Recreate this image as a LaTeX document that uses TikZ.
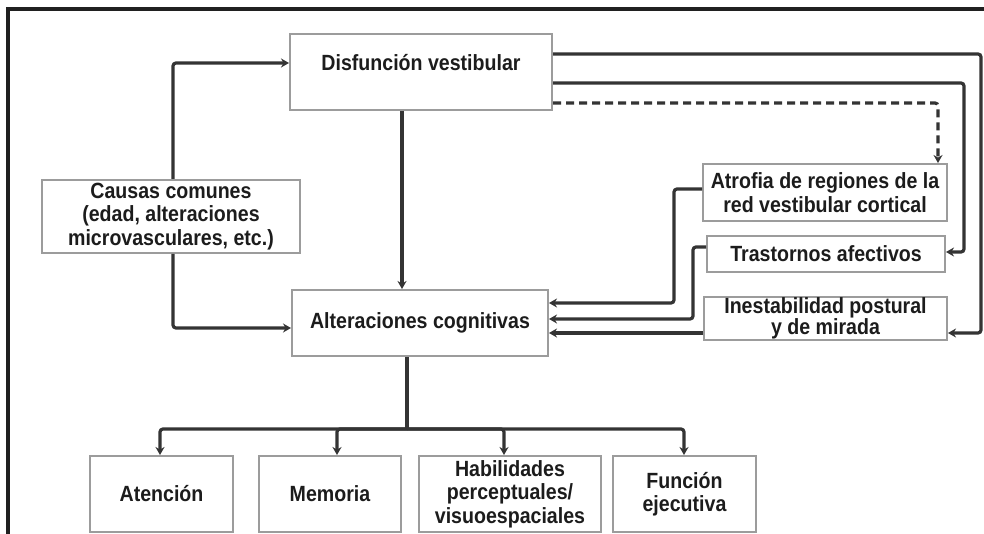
\documentclass[tikz,border=0pt]{standalone}
\usepackage{fontspec}
\setmainfont[FakeStretch=0.89]{Liberation Sans}
\usetikzlibrary{arrows.meta,calc}
\definecolor{ln}{HTML}{343434}
\definecolor{bx}{HTML}{9C9C9C}
\definecolor{tx}{HTML}{1C1C1C}
\definecolor{fr}{HTML}{202020}
\begin{document}
\begin{tikzpicture}[x=1pt,y=-1pt,
  box/.style={draw=bx,line width=2pt,fill=white,inner sep=0pt,align=center,
    text=tx,font=\bfseries\fontsize{22}{23.5}\selectfont},
  lbl/.style={inner sep=0pt,align=center,text=tx,font=\bfseries\fontsize{22}{23.5}\selectfont},
  wire/.style={draw=ln,line width=3.2pt,rounded corners=3pt},
  conn/.style={wire,-{Stealth[length=8pt,width=9pt]}},
  dconn/.style={conn,dash pattern=on 8pt off 5pt}]
\useasboundingbox (0,0) rectangle (984,534);
\fill[white] (0,0) rectangle (984,534);
% frame
\draw[fr,line width=3.2pt] (8,540) -- (8,9) -- (990,9);
% boxes
\node[box,minimum width=262pt,minimum height=76pt] (dis) at (421,72) {};
\node[lbl] (dislbl) at (421,63) {Disfunción vestibular};
\node[box,minimum width=258pt,minimum height=73pt] (cau) at (171,216.5)
  {Causas comunes\\(edad, alteraciones\\microvasculares, etc.)};
\node[box,minimum width=256pt,minimum height=66pt] (alt) at (420,323) {Alteraciones cognitivas};
\node[box,minimum width=244pt,minimum height=57pt] (atr) at (825,192.5)
  {Atrofia de regiones de la\\red vestibular cortical};
\node[box,minimum width=238pt,minimum height=36pt] (tra) at (826,254) {Trastornos afectivos};
\node[box,minimum width=243pt,minimum height=39pt,font=\bfseries\fontsize{22}{20}\selectfont] (ine) at (825.5,318.5)
  {Inestabilidad postural\\y de mirada};
\node[box,minimum width=143pt,minimum height=76pt] (ate) at (161.5,494) {Atención};
\node[box,minimum width=142pt,minimum height=76pt] (mem) at (330,494) {Memoria};
\node[box,minimum width=182pt,minimum height=76pt] (hab) at (510,494)
  {Habilidades\\perceptuales/\\visuoespaciales};
\node[box,minimum width=143pt,minimum height=76pt] (fun) at (684.5,494) {Función\\ejecutiva};
% connectors
\draw[conn] ($(cau.north)+(2,0)$) |- ($(dis.west)+(0,-9)$);
\draw[conn] ($(cau.south)+(2,0)$) |- ($(alt.west)+(0,5)$);
\draw[conn] ($(dis.south)+(-19,0)$) -- ($(alt.north)+(-18,0)$);
\draw[conn] ($(dis.east)+(0,-18)$) -| ($(ine.east)+(33,14.5)$) -- ($(ine.east)+(0,14.5)$);
\draw[conn] ($(dis.east)+(0,11)$) -| ($(tra.east)+(18,-2)$) -- ($(tra.east)+(0,-2)$);
\draw[dconn] ($(dis.east)+(0,31)$) -| ($(atr.north)+(113,0)$);
\draw[conn] ($(atr.west)+(0,-3.5)$) -| ($(alt.east)+(125,-20)$) -- ($(alt.east)+(0,-20)$);
\draw[conn] ($(tra.west)+(0,-7)$) -| ($(alt.east)+(144,-4)$) -- ($(alt.east)+(0,-4)$);
\draw[conn] ($(ine.west)+(0,14.5)$) -- ($(alt.east)+(0,10)$);
% tree
\coordinate (hub) at (407,429);
\draw[wire] ($(alt.south)+(-13,0)$) -- (hub);
\draw[conn] (hub) -| ($(ate.north)+(-1.5,0)$);
\draw[conn] (hub) -| ($(mem.north)+(7,0)$);
\draw[conn] (hub) -| ($(hab.north)+(-6,0)$);
\draw[conn] (hub) -| ($(fun.north)+(-0.5,0)$);
\end{tikzpicture}
\end{document}
